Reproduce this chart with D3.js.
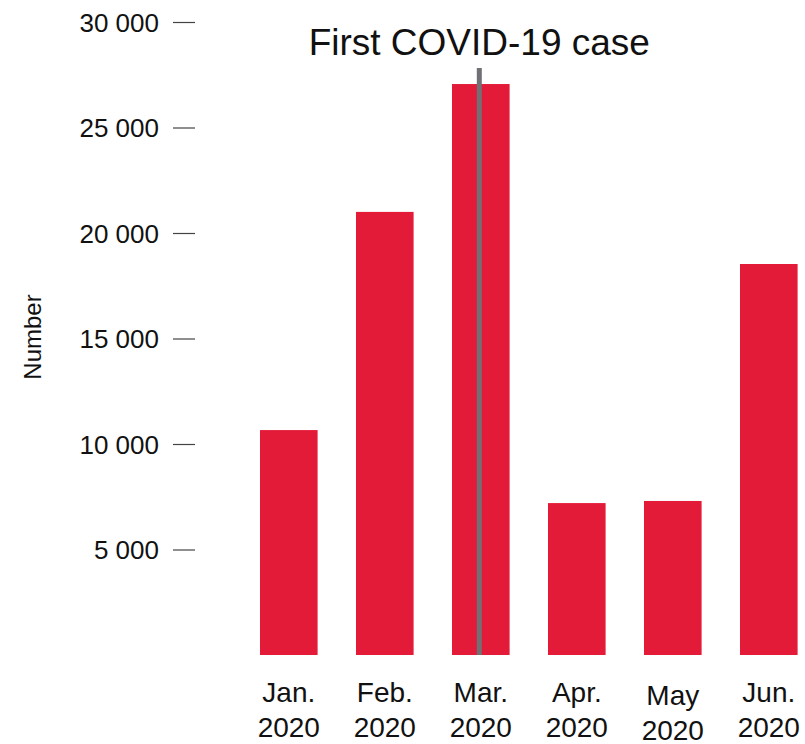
<!DOCTYPE html>
<html>
  <head>
    <script src="https://cdnjs.cloudflare.com/ajax/libs/d3/7.8.5/d3.min.js"></script>
    <style>
      body { margin: 0; background: #fff; }
      svg { font-family: "Liberation Sans", Arial, sans-serif; }
      rect.bar { fill: #e31a38; }
      .tick line { stroke: #444; stroke-width: 1.2; }
      .tick text { fill: #111; font-size: 26px; }
      text.month { fill: #111; font-size: 28px; text-anchor: middle; }
      line.marker { stroke: #707075; stroke-width: 5; }
    </style>
  </head>
  <body>
    <svg width="805" height="744"></svg>
    <script>
      // months and counts
      var months = ["Jan.", "Feb.", "Mar.", "Apr.", "May", "Jun."];
      var year = "2020";
      var counts = [10660, 21000, 27060, 7200, 7300, 18530];
      var yTicks = [5000, 10000, 15000, 20000, 25000, 30000];
      var markerMonth = "Mar.";
      var markerLabel = "First COVID-19 case";
      var yTitle = "Number";

      var svg = d3.select("svg");

      var x = d3.scaleBand()
        .domain(months)
        .range([240.8, 816.8])
        .paddingInner(0.4)
        .paddingOuter(0.2);

      var y = d3.scaleLinear().domain([0, 30000]).range([655, 22]);

      var fmt = v => d3.format(",")(v).replace(/,/g, " ");

      // y axis, ticks only
      var yAxis = svg.append("g")
        .attr("transform", "translate(195,0)")
        .call(d3.axisLeft(y).tickValues(yTicks).tickFormat(fmt).tickSize(22).tickPadding(14));
      yAxis.select(".domain").remove();
      yAxis.selectAll(".tick text").attr("dy", "0.36em");

      svg.append("text")
        .attr("transform", "translate(41,337) rotate(-90)")
        .attr("text-anchor", "middle")
        .style("font-size", "24px")
        .style("fill", "#111")
        .text(yTitle);

      svg.selectAll("rect.bar")
        .data(counts)
        .enter()
        .append("rect")
        .attr("class", "bar")
        .attr("x", (d, i) => x(months[i]))
        .attr("width", x.bandwidth())
        .attr("y", d => y(d))
        .attr("height", d => y(0) - y(d));

      // month labels, May sits a little lower in the original
      var nudge = m => (m === "May" ? 3 : 0);
      var lab = svg.selectAll("text.month")
        .data(months)
        .enter()
        .append("text")
        .attr("class", "month")
        .attr("x", d => x(d) + x.bandwidth() / 2)
        .attr("y", d => 702 + nudge(d));
      lab.append("tspan").text(d => d);
      lab.append("tspan")
        .attr("x", d => x(d) + x.bandwidth() / 2)
        .attr("dy", 35)
        .text(year);

      // marker line for the first case
      var mx = x(markerMonth) + x.bandwidth() / 2 - 1.5;
      svg.append("line")
        .attr("class", "marker")
        .attr("x1", mx).attr("x2", mx)
        .attr("y1", 68).attr("y2", y(0));

      svg.append("text")
        .attr("x", mx)
        .attr("y", 55)
        .attr("text-anchor", "middle")
        .style("font-size", "37px")
        .style("fill", "#111")
        .text(markerLabel);
    </script>
  </body>
</html>
